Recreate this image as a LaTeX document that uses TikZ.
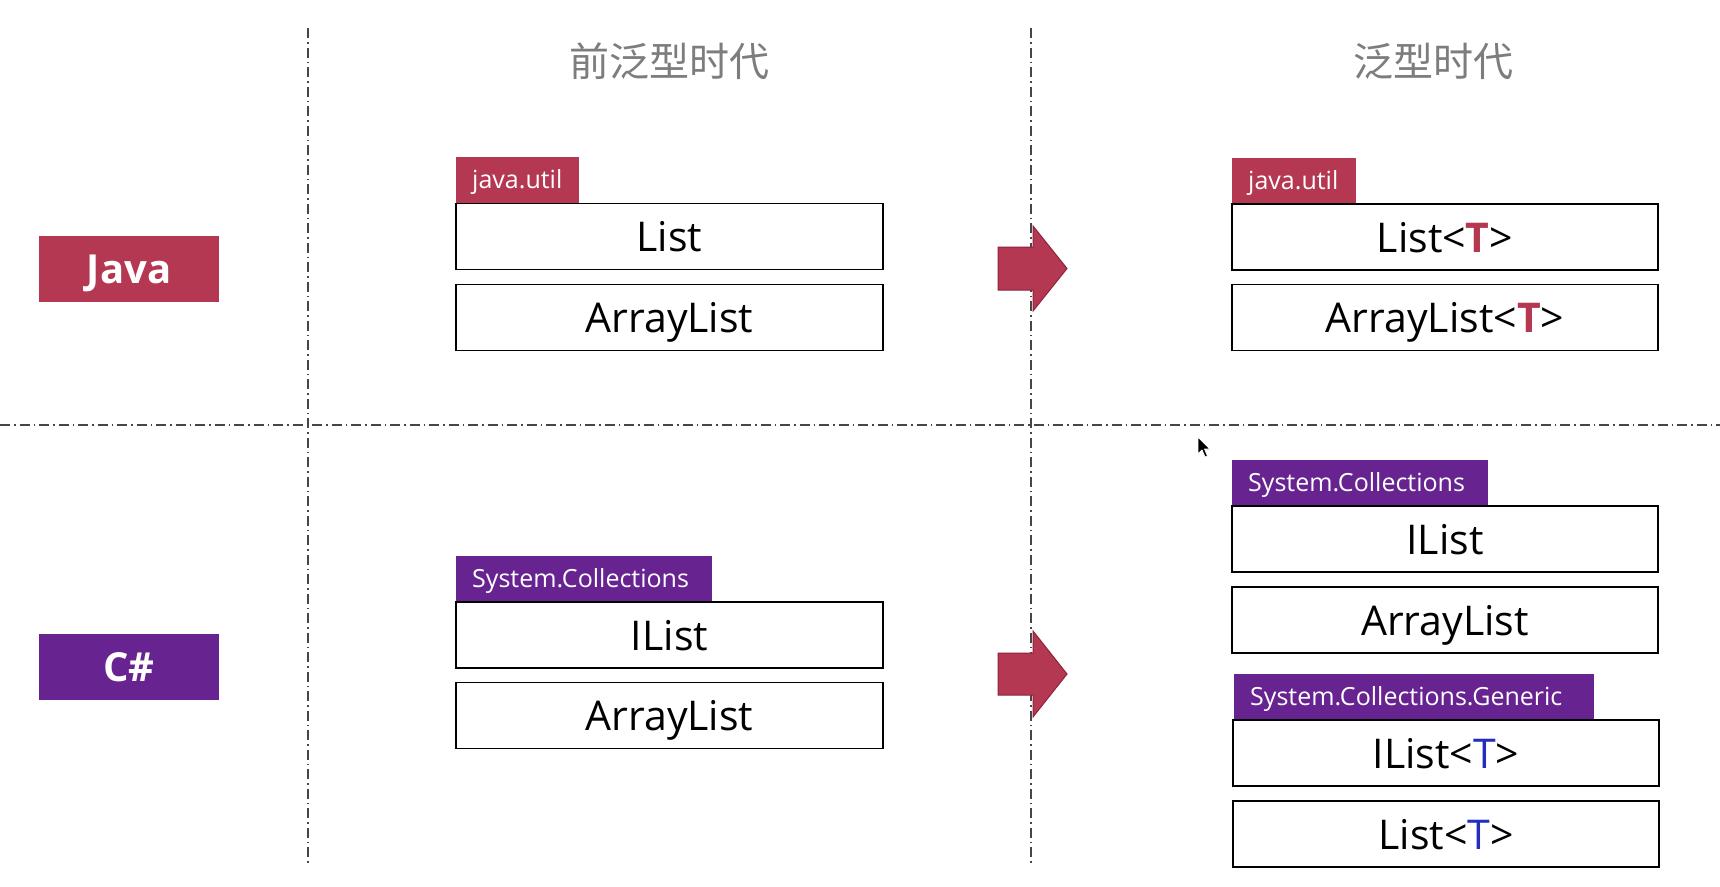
\documentclass[tikz,border=0pt]{standalone}
\usepackage{fontspec}
\setmainfont{Open Sans}
\newfontfamily\cjk{Noto Sans CJK SC}
\definecolor{jred}{RGB}{181,56,83}
\definecolor{jredd}{RGB}{140,35,60}
\definecolor{cpurple}{RGB}{103,36,145}
\definecolor{tblue}{RGB}{35,45,190}
\definecolor{eragray}{RGB}{125,125,125}
\definecolor{gridgray}{RGB}{70,70,70}
\tikzset{
  divider/.style={draw=gridgray, line width=1.3pt, dash pattern=on 10pt off 4pt on 1.5pt off 4pt},
  lang/.style={minimum width=180pt, minimum height=66pt, inner sep=0pt, text=white,
    font=\fontsize{40}{48}\selectfont\bfseries, text height=29pt, text depth=0pt},
  classbox/.style={draw=black, line width=1.6pt, fill=white, inner sep=0pt, minimum height=66pt,
    font=\fontsize{41}{49}\selectfont, text height=30pt, text depth=0pt},
  pkgtag/.style={anchor=south west, inner xsep=16pt, inner ysep=0pt, minimum height=46pt, text=white,
    font=\fontsize{25}{30}\selectfont, text height=18pt, text depth=0pt, align=left},
  era/.style={text=eragray, font=\cjk\fontsize{40}{48}\selectfont},
  bigarrow/.style={fill=jred, draw=jredd, line width=1pt, line join=miter},
}
\newcommand{\jT}{\textcolor{jred}{\bfseries T}}
\newcommand{\cT}{\textcolor{tblue}{T}}
\begin{document}
\begin{tikzpicture}[x=1pt,y=-1pt]
\fill[white] (0,0) rectangle (1720,886);
\useasboundingbox (0,0) rectangle (1720,886);

% dividers
\draw[divider] (308,28) -- (308,866);
\draw[divider] (1031,28) -- (1031,866);
\draw[divider] (0,425) -- (1720,425);

% era titles
\node[era] (era1) at (669,61) {前泛型时代};
\node[era] (era2) at (1433,61) {泛型时代};

% language labels
\node[lang, fill=jred] (java) at (129,269) {Java};
\node[lang, fill=cpurple] (csharp) at (129,667) {C\#};

% Java, before generics
\node[pkgtag, fill=jred, text width=91pt] (jtagA) at (456,203) {java.util};
\node[classbox, minimum width=427pt] (jlistA) at (669.5,236.5) {List};
\node[classbox, minimum width=427pt] (jarrA) at (669.5,317.5) {ArrayList};

% Java, generics
\node[pkgtag, fill=jred, text width=92pt] (jtagB) at (1232,204) {java.util};
\node[classbox, minimum width=426pt] (jlistB) at (1445,237) {List<\jT>};
\node[classbox, minimum width=426pt] (jarrB) at (1445,317.5) {ArrayList<\jT>};

% C#, before generics
\node[pkgtag, fill=cpurple, text width=224pt] (ctagA) at (456,602) {System.Collections};
\node[classbox, minimum width=427pt] (cilistA) at (669.5,635) {IList};
\node[classbox, minimum width=427pt] (carrA) at (669.5,715.5) {ArrayList};

% C#, generics
\node[pkgtag, fill=cpurple, text width=224pt] (ctagB) at (1232,506) {System.Collections};
\node[classbox, minimum width=426pt] (cilistB) at (1445,539) {IList};
\node[classbox, minimum width=426pt] (carrB) at (1445,620) {ArrayList};
\node[pkgtag, fill=cpurple, text width=328pt] (ctagC) at (1234,720) {System.Collections.Generic};
\node[classbox, minimum width=426pt] (cilistC) at (1446,753) {IList<\cT>};
\node[classbox, minimum width=426pt] (clistC) at (1446,834) {List<\cT>};

% block arrows
\draw[bigarrow] (998,247) -- (1033,247) -- (1033,226) -- (1067,268.5) -- (1033,311) -- (1033,290) -- (998,290) -- cycle;
\draw[bigarrow] (998,653) -- (1033,653) -- (1033,631) -- (1067,674) -- (1033,717) -- (1033,695) -- (998,695) -- cycle;

% mouse pointer
\draw[fill=black, draw=white, line width=0.8pt, line join=round] (1198,437) -- ++(0,17) -- ++(4,-4) -- ++(3,7) -- ++(2.5,-1) -- ++(-3,-7) -- ++(5.5,0) -- cycle;
\end{tikzpicture}
\end{document}
